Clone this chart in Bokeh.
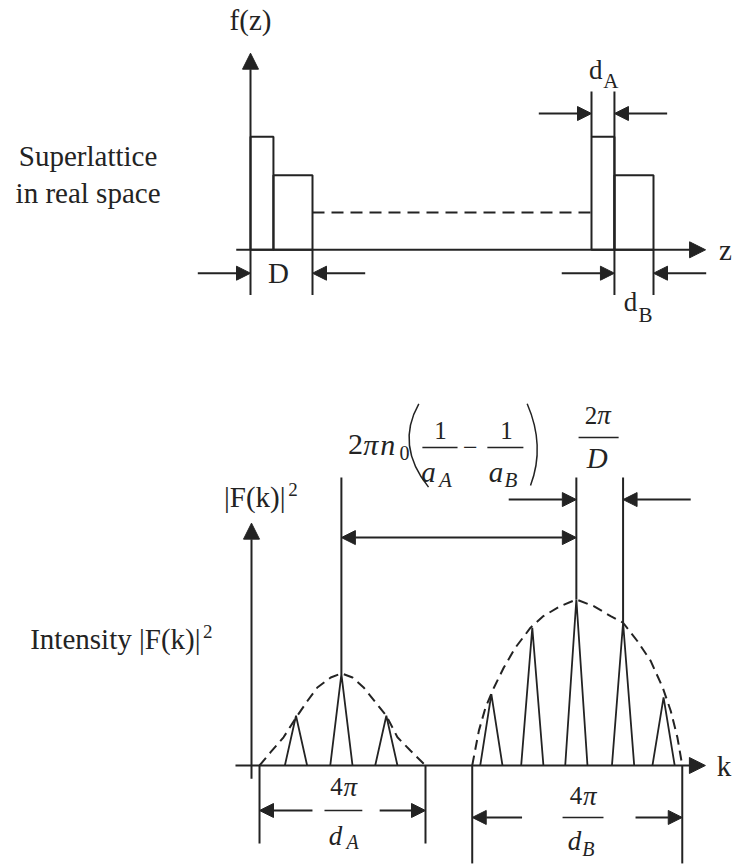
from bokeh.plotting import figure
from bokeh.layouts import column
from bokeh.models import Range1d, Arrow, NormalHead, ColumnDataSource, Label
from bokeh.embed import file_html
from bokeh.resources import INLINE

INK = "#232323"
SERIF = "Liberation Serif"

# ---------------- superlattice in real space (z in units of the period D) ----------------
period = 1.0            # D
layer_A = 0.37          # d_A
layer_B = period - layer_A   # d_B
f_A = 1.0               # f(z) inside layer A
f_B = 0.66              # f(z) inside layer B
f_mean = 0.33           # level of the dashed continuation
last_period_start = 5.5

# ---------------- reciprocal space (k in units of 2pi/D, intensity relative to the strongest peak) ----
peaks_A_k = [1.0, 2.02, 3.03]
peaks_A_I = [0.30, 0.55, 0.30]
peaks_B_k = [5.39, 6.31, 7.30, 8.35, 9.26]
peaks_B_I = [0.43, 0.83, 1.00, 0.86, 0.41]
peak_halfwidth = 0.25

env_A_k = [0.18, 0.43, 0.72, 1.03, 1.26, 1.48, 1.78, 2.02, 2.27, 2.52, 2.79, 3.03, 3.28, 3.57, 3.91]
env_A_I = [0.00, 0.08, 0.17, 0.30, 0.39, 0.47, 0.53, 0.555, 0.53, 0.47, 0.38, 0.30, 0.17, 0.09, 0.00]
env_B_k = [4.96, 5.11, 5.26, 5.45, 5.67, 5.93, 6.27, 6.56, 6.94, 7.30, 7.69, 8.07, 8.35, 8.67, 8.97, 9.24, 9.42, 9.57, 9.68]
env_B_I = [0.00, 0.21, 0.35, 0.47, 0.59, 0.71, 0.83, 0.90, 0.96, 1.00, 0.96, 0.90, 0.86, 0.75, 0.63, 0.47, 0.33, 0.17, 0.00]


def make_fig(w, h, xr, yr):
    p = figure(width=w, height=h, x_range=Range1d(*xr), y_range=Range1d(*yr),
               output_backend="svg", toolbar_location=None,
               x_axis_type=None, y_axis_type=None, min_border=0)
    p.outline_line_color = None
    p.background_fill_color = "white"
    p.border_fill_color = "white"
    return p


def label(p, x, y, s, size, italic=False, align="center"):
    p.add_layout(Label(x=x, y=y, text=s, text_font=SERIF, text_font_size=f"{size}px",
                       text_font_style="italic" if italic else "normal",
                       text_color=INK, text_align=align, text_baseline="middle"))


def arrows(p, xs0, ys0, xs1, ys1, size=14, both=False, width=2):
    src = ColumnDataSource(dict(x0=xs0, y0=ys0, x1=xs1, y1=ys1))
    head = lambda: NormalHead(size=size, fill_color=INK, line_color=INK, line_width=1)
    p.add_layout(Arrow(end=head(), start=head() if both else None,
                       x_start="x0", y_start="y0", x_end="x1", y_end="y1",
                       source=src, line_color=INK, line_width=width))


# =========================== top panel ===========================
top = make_fig(735, 340, (-250 / 62, 485 / 62), ((249.3 - 340) / 113, 249.3 / 113))

s0 = last_period_start
# layer blocks of the first and the last period
top.quad(left=[0, layer_A, s0, s0 + layer_A],
         right=[layer_A, period, s0 + layer_A, s0 + period],
         bottom=[0, 0, 0, 0], top=[f_A, f_B, f_A, f_B],
         fill_alpha=0, line_color=INK, line_width=2)
# dashed continuation between the periods
top.segment(x0=[period], y0=[f_mean], x1=[s0], y1=[f_mean],
            line_color=INK, line_width=2, line_dash="12 7")
# extension lines for the dimensions
ext_lo, ext_hi = -0.40, 1.40
top.segment(x0=[period, s0, s0 + layer_A, s0 + period],
            y0=[0, f_A, ext_hi, 0],
            x1=[period, s0, s0 + layer_A, s0 + period],
            y1=[ext_lo, ext_hi, ext_lo, ext_lo],
            line_color=INK, line_width=2)
# axes
arrows(top, [0, -0.23], [ext_lo, 0], [0, 7.34], [1.74, 0], size=16)
# dimension arrows D, d_A, d_B
tail = 0.85
yD, yA = -0.207, 1.206
arrows(top,
       [-tail, period + tail, s0 - tail, s0 + layer_A + tail, s0 + layer_A - tail, s0 + period + tail],
       [yD, yD, yA, yA, yD, yD],
       [0, period, s0, s0 + layer_A, s0 + layer_A, s0 + period],
       [yD, yD, yA, yA, yD, yD])

label(top, 0, 2.03, "f(z)", 29)
label(top, 7.66, 0.0, "z", 29)
label(top, period / 2 - 0.05, yD, "D", 29)
label(top, s0 + 0.07, 1.59, "d", 27)
label(top, s0 + 0.31, 1.49, "A", 21)
label(top, s0 + 0.63, -0.465, "d", 27)
label(top, s0 + 0.87, -0.58, "B", 21)
label(top, -2.62, 0.834, "Superlattice", 29)
label(top, -2.62, 0.507, "in real space", 29)

# =========================== bottom panel ===========================
bot = make_fig(735, 524, (-251 / 44.5, 484 / 44.5), ((765 - 864) / 166, (765 - 340) / 166))

# diffraction peaks drawn as narrow triangles
pk_x, pk_y = [], []
for ks, Is in ((peaks_A_k, peaks_A_I), (peaks_B_k, peaks_B_I)):
    for k, I in zip(ks, Is):
        pk_x.append([k - peak_halfwidth, k, k + peak_halfwidth])
        pk_y.append([0, I, 0])
bot.multi_line(xs=pk_x, ys=pk_y, line_color=INK, line_width=1.8)

# envelopes
bot.line(env_A_k, env_A_I, line_color=INK, line_width=2, line_dash="10 6")
bot.line(env_B_k, env_B_I, line_color=INK, line_width=2, line_dash="10 6")

# guide lines above the marked peaks
guide_top = 1.735
gk = [peaks_A_k[1], peaks_B_k[2], peaks_B_k[3]]
gI = [peaks_A_I[1], peaks_B_I[2], peaks_B_I[3]]
bot.segment(x0=gk, y0=gI, x1=gk, y1=[guide_top] * 3, line_color=INK, line_width=2)

# extension lines below the envelopes
bot.segment(x0=[env_A_k[0], env_A_k[-1], env_B_k[0], env_B_k[-1]], y0=[0, 0, 0, 0],
            x1=[env_A_k[0], env_A_k[-1], env_B_k[0], env_B_k[-1]],
            y1=[-0.47, -0.47, -0.59, -0.59], line_color=INK, line_width=2)

# axes
arrows(bot, [0, -0.36], [-0.08, 0], [0, 10.2], [1.46, 0], size=16)

# spacing between the two envelope centres
arrows(bot, [peaks_A_k[1]], [1.373], [peaks_B_k[2]], [1.373], both=True)
# 2pi/D
arrows(bot, [peaks_B_k[2] - 1.52, peaks_B_k[3] + 1.52], [1.602, 1.602],
       [peaks_B_k[2], peaks_B_k[3]], [1.602, 1.602])
# envelope widths
arrows(bot, [1.37, 2.88, 6.08, 8.63], [-0.271, -0.271, -0.313, -0.313],
       [env_A_k[0], env_A_k[-1], env_B_k[0], env_B_k[-1]], [-0.271, -0.271, -0.313, -0.313])

# fraction bars
bot.segment(x0=[1.64, 6.99, 3.84, 5.30, 7.35], y0=[-0.271, -0.313, 1.916, 1.916, 1.976],
            x1=[2.49, 7.91, 4.63, 6.11, 8.25], y1=[-0.271, -0.313, 1.916, 1.916, 1.976],
            line_color=INK, line_width=1.5)
# large parentheses
bot.quadratic(x0=[3.760, 6.195], y0=[2.179, 2.179], x1=[3.978, 6.270], y1=[1.677, 1.687],
              cx=[3.231, 6.607], cy=[1.928, 1.923], line_color=INK, line_width=1.5)

# 2 pi n0 (1/a_A - 1/a_B)
label(bot, 2.337, 1.934, "2", 30)
label(bot, 2.68, 1.934, "π", 30, italic=True)
label(bot, 3.06, 1.934, "n", 30, italic=True)
label(bot, 3.44, 1.880, "0", 20)
label(bot, 4.247, 2.021, "1", 25)
label(bot, 3.978, 1.770, "a", 29, italic=True)
label(bot, 4.360, 1.718, "A", 21, italic=True)
label(bot, 4.920, 1.916, "−", 26)
label(bot, 5.730, 2.021, "1", 25)
label(bot, 5.494, 1.770, "a", 29, italic=True)
label(bot, 5.831, 1.718, "B", 21, italic=True)

# 2 pi / D
label(bot, 7.63, 2.11, "2", 25)
label(bot, 7.92, 2.11, "π", 27, italic=True)
label(bot, 7.77, 1.855, "D", 29, italic=True)

# 4 pi / d_A and 4 pi / d_B
label(bot, 1.91, -0.127, "4", 25)
label(bot, 2.22, -0.127, "π", 27, italic=True)
label(bot, 1.888, -0.422, "d", 27, italic=True)
label(bot, 2.270, -0.458, "A", 20, italic=True)
label(bot, 7.29, -0.181, "4", 25)
label(bot, 7.60, -0.181, "π", 27, italic=True)
label(bot, 7.26, -0.452, "d", 27, italic=True)
label(bot, 7.57, -0.500, "B", 20, italic=True)

# intensity labels with a raised exponent
label(bot, 0.764, 1.620, "|F(k)|", 29, align="right")
label(bot, 0.93, 1.660, "2", 19)
label(bot, -1.146, 0.765, "Intensity |F(k)|", 29, align="right")
label(bot, -0.985, 0.805, "2", 19)
label(bot, 10.62, 0.0, "k", 29)

layout = column(top, bot, spacing=0)
open("out.html", "w").write(file_html(layout, INLINE))
